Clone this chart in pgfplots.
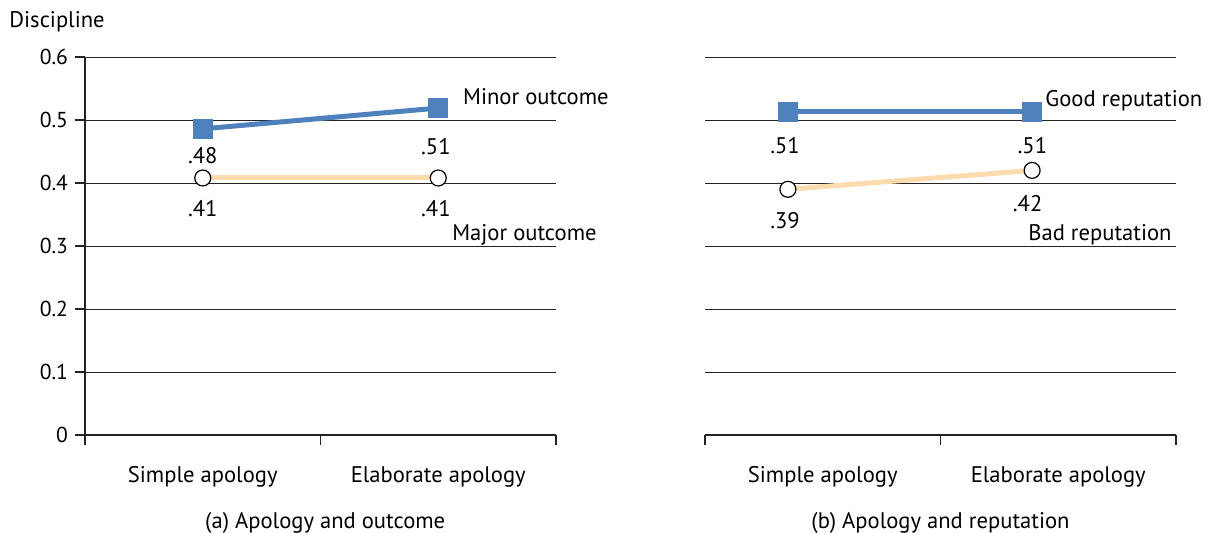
\documentclass[border=0pt]{standalone}
\usepackage{fontspec}
\setmainfont{PT Sans}
\usepackage{pgfplots}
\pgfplotsset{compat=1.18}
\definecolor{blu}{RGB}{79,129,189}
\definecolor{pch}{RGB}{252,220,172}
\definecolor{grd}{RGB}{35,35,35}
\begin{document}
\begin{tikzpicture}[font=\fontsize{11.3}{13}\selectfont]
\useasboundingbox (0,0) rectangle (607.5pt,266pt);
\pgfplotsset{
 panel/.style={
  scale only axis, width=235.5pt, height=189pt,
  xmin=0,xmax=2,ymin=0,ymax=0.6,
  axis x line*=bottom,
  axis y line*=left,
  xtick={0,1,2}, xticklabels={},
  ytick={0,0.1,0.2,0.3,0.4,0.5,0.6},
  ymajorgrids, grid style={grd, line width=0.5pt},
  tick align=outside, major tick length=5pt,
  every tick/.style={grd, line width=0.6pt},
  axis line style={grd, line width=1.1pt},
  clip=false,
  /pgf/number format/assume math mode=true,
  yticklabel style={font=\fontsize{10.8}{12}\selectfont, /pgf/number format/fixed, /pgf/number format/precision=1},
 },
 blueline/.style={blu, line width=2.5pt, mark=square*, mark size=3.75pt, mark options={solid, fill=blu, draw=none}},
 peachline/.style={pch, line width=2.5pt, mark=*, mark size=4pt, mark options={fill=white, draw=black, line width=0.6pt}},
}
\node[anchor=base west, inner sep=0pt] at (4.5pt,252.5pt) {Discipline};
% Panel (a)
\begin{axis}[panel, at={(42.5pt,48.5pt)}, anchor=south west]
\addplot[blueline] coordinates {(0.5,0.486) (1.5,0.519)};
\addplot[peachline] coordinates {(0.5,0.408) (1.5,0.408)};
\node at (axis cs:0.5,0.443) {.48};
\node at (axis cs:1.49,0.458) {.51};
\node at (axis cs:0.5,0.360) {.41};
\node at (axis cs:1.49,0.360) {.41};
\node[anchor=base west, inner sep=0pt] at (axis cs:1.604,0.524) {Minor outcome};
\node[anchor=base east, inner sep=0pt] at (axis cs:2.174,0.308) {Major outcome};
\node[anchor=base, inner sep=0pt, yshift=-23.5pt] at (axis cs:0.5,0) {Simple apology};
\node[anchor=base, inner sep=0pt, yshift=-23.5pt] at (axis cs:1.5,0) {Elaborate apology};
\node[anchor=base, inner sep=0pt, yshift=-46.5pt] at (axis cs:1.02,0) {(a) Apology and outcome};
\end{axis}
% Panel (b)
\begin{axis}[panel, at={(352.5pt,48.5pt)}, anchor=south west,
  y axis line style={draw=none}, yticklabels={}, ytick style={draw=none}]
\addplot[blueline] coordinates {(0.352,0.513) (1.389,0.513)};
\addplot[peachline] coordinates {(0.352,0.390) (1.389,0.420)};
\node at (axis cs:0.34,0.460) {.51};
\node at (axis cs:1.39,0.460) {.51};
\node at (axis cs:0.34,0.341) {.39};
\node at (axis cs:1.37,0.368) {.42};
\node[anchor=base west, inner sep=0pt] at (axis cs:1.444,0.522) {Good reputation};
\node[anchor=base east, inner sep=0pt] at (axis cs:1.983,0.308) {Bad reputation};
\node[anchor=base, inner sep=0pt, yshift=-23.5pt] at (axis cs:0.5,0) {Simple apology};
\node[anchor=base, inner sep=0pt, yshift=-23.5pt] at (axis cs:1.5,0) {Elaborate apology};
\node[anchor=base, inner sep=0pt, yshift=-46.5pt] at (axis cs:1.0,0) {(b) Apology and reputation};
\end{axis}
\end{tikzpicture}
\end{document}
